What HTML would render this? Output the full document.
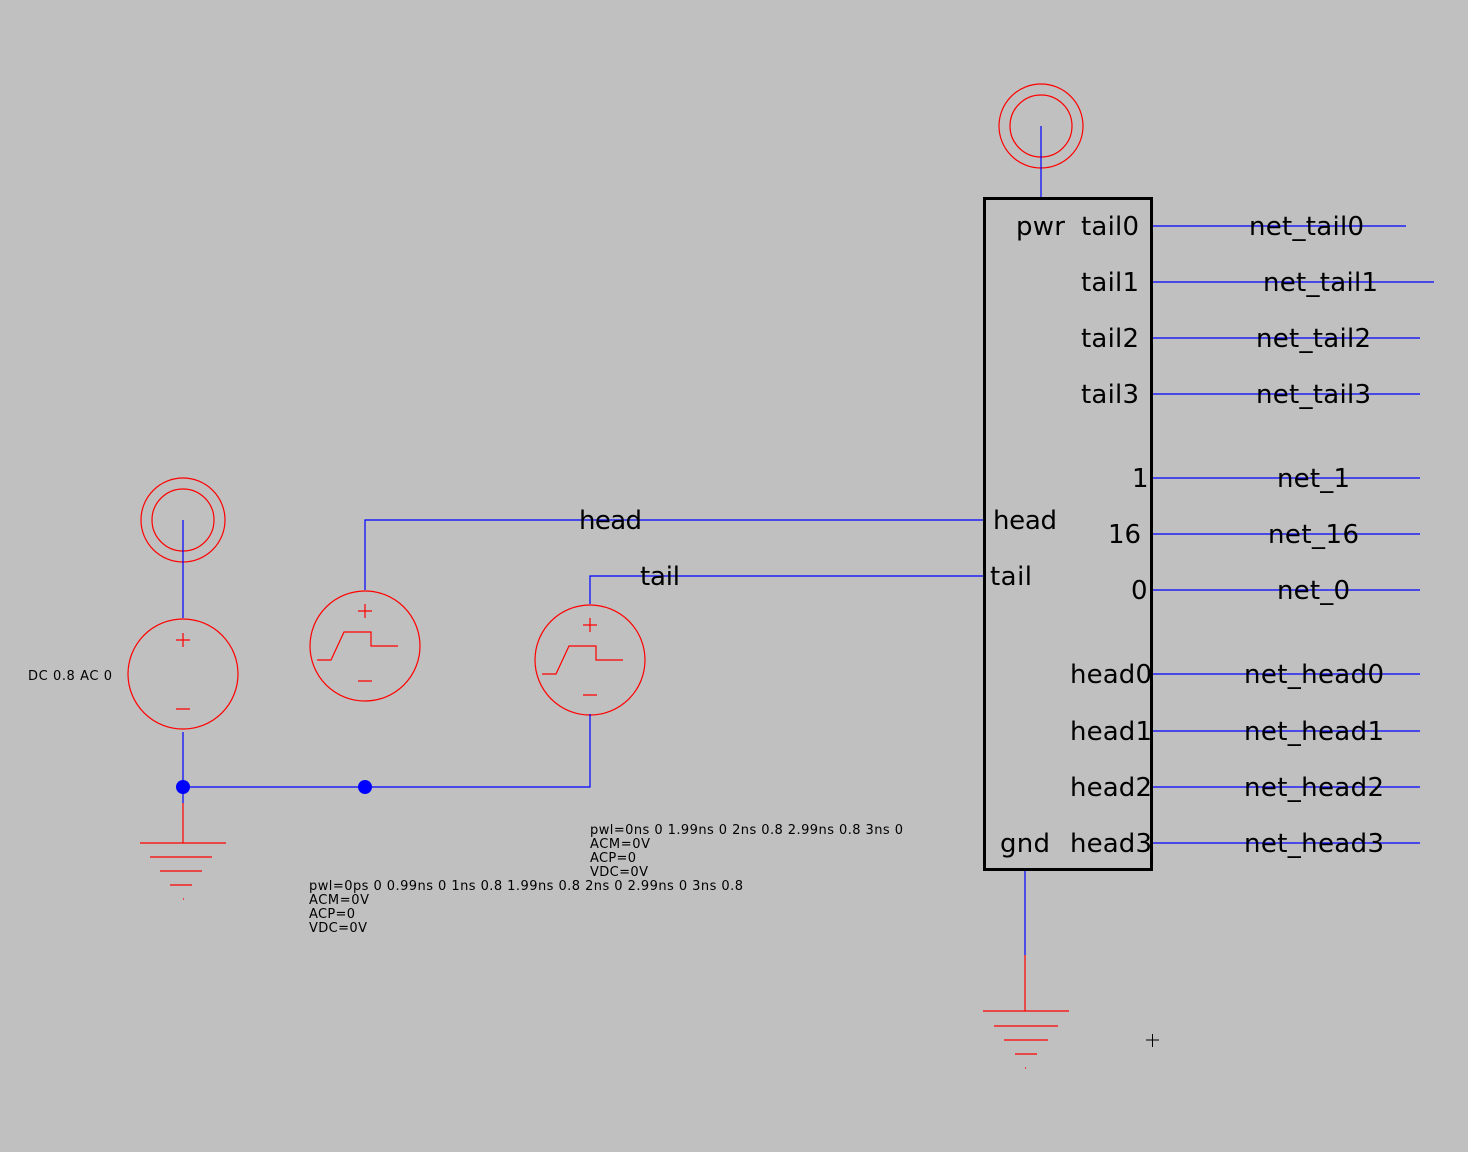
<!DOCTYPE html>
<html><head><style>
html,body{margin:0;padding:0;background:#c0c0c0;}
svg{display:block}
text{font-family:"DejaVu Sans","Liberation Sans",sans-serif;fill:#000}
.b{font-size:26px}
.s{font-size:13px}
</style></head><body>
<svg width="1468" height="1152" viewBox="0 0 1468 1152" xmlns="http://www.w3.org/2000/svg">
<g fill="none" stroke="#ff0000" stroke-width="1.2">
<circle cx="183" cy="520" r="42"/><circle cx="183" cy="520" r="31"/>
<circle cx="1041" cy="126" r="42"/><circle cx="1041" cy="126" r="31"/>
<circle cx="183" cy="674" r="55"/>
<circle cx="365" cy="646" r="55"/>
<circle cx="590" cy="660" r="55"/>
<path d="M176 640h14M183 633v14M176 709h14"/>
<path d="M358 611h14M365 604v14M358 681h14"/>
<path d="M583 625h14M590 618v14M583 695h14"/>
<path d="M317 660h14l13-28h27v14h27"/>
<path d="M542 674h14l13-28h27v14h27"/>
<path d="M183 803v40M140 843h86M150 857h62M160 871h42M170 885h22M183 899h1"/>
<path d="M1025 955v56M983 1011h86M994 1026h64M1004 1040h44M1015 1054h22M1025 1068h1"/>
</g>
<g fill="none" stroke="#0000ff" stroke-width="1.2">
<path d="M183 520v98M183 732v71M183 787h407v-73"/>
<path d="M365 590v-70h618M590 604v-28h393"/>
<path d="M1041 126v71M1025 871v84"/>
<path d="M1153 226h253M1153 282h281M1153 338h267M1153 394h267M1153 478h267M1153 534h267M1153 590h267M1153 674h267M1153 731h267M1153 787h267M1153 843h267"/>
</g>
<circle cx="183" cy="787" r="7" fill="#0000ff"/>
<circle cx="365" cy="787" r="7" fill="#0000ff"/>
<rect x="984.5" y="198.5" width="167" height="671" fill="none" stroke="#000" stroke-width="3"/>
<path d="M1146 1040h13M1152.5 1034v13" stroke="#000" stroke-width="1"/>
<g class="b">
<text x="1016" y="235" textLength="49">pwr</text>
<text x="1081" y="235" textLength="58">tail0</text>
<text x="1081" y="291" textLength="58">tail1</text>
<text x="1081" y="347" textLength="58">tail2</text>
<text x="1081" y="403" textLength="58">tail3</text>
<text x="1132" y="487" textLength="14">1</text>
<text x="1108" y="543" textLength="33">16</text>
<text x="1131" y="599" textLength="15">0</text>
<text x="1070" y="683" textLength="82">head0</text>
<text x="1070" y="740" textLength="82">head1</text>
<text x="1070" y="796" textLength="82">head2</text>
<text x="1070" y="852" textLength="82">head3</text>
<text x="1000" y="852" textLength="50">gnd</text>
<text x="993" y="529" textLength="64">head</text>
<text x="990" y="585" textLength="42">tail</text>
<text x="579" y="529" textLength="63">head</text>
<text x="640" y="585" textLength="40">tail</text>
<text x="1249" y="235" textLength="115">net_tail0</text>
<text x="1263" y="291" textLength="115">net_tail1</text>
<text x="1256" y="347" textLength="115">net_tail2</text>
<text x="1256" y="403" textLength="115">net_tail3</text>
<text x="1277" y="487" textLength="73">net_1</text>
<text x="1268" y="543" textLength="91">net_16</text>
<text x="1277" y="599" textLength="73">net_0</text>
<text x="1244" y="683" textLength="140">net_head0</text>
<text x="1244" y="740" textLength="140">net_head1</text>
<text x="1244" y="796" textLength="140">net_head2</text>
<text x="1244" y="852" textLength="140">net_head3</text>
</g>
<g class="s">
<text x="28" y="680" textLength="84">DC 0.8 AC 0</text>
<text x="590" y="834" textLength="313">pwl=0ns 0 1.99ns 0 2ns 0.8 2.99ns 0.8 3ns 0</text>
<text x="590" y="848" textLength="60">ACM=0V</text>
<text x="590" y="862" textLength="46">ACP=0</text>
<text x="590" y="876" textLength="58">VDC=0V</text>
<text x="309" y="890" textLength="434">pwl=0ps 0 0.99ns 0 1ns 0.8 1.99ns 0.8 2ns 0 2.99ns 0 3ns 0.8</text>
<text x="309" y="904" textLength="60">ACM=0V</text>
<text x="309" y="918" textLength="46">ACP=0</text>
<text x="309" y="932" textLength="58">VDC=0V</text>
</g>
</svg>
</body></html>
